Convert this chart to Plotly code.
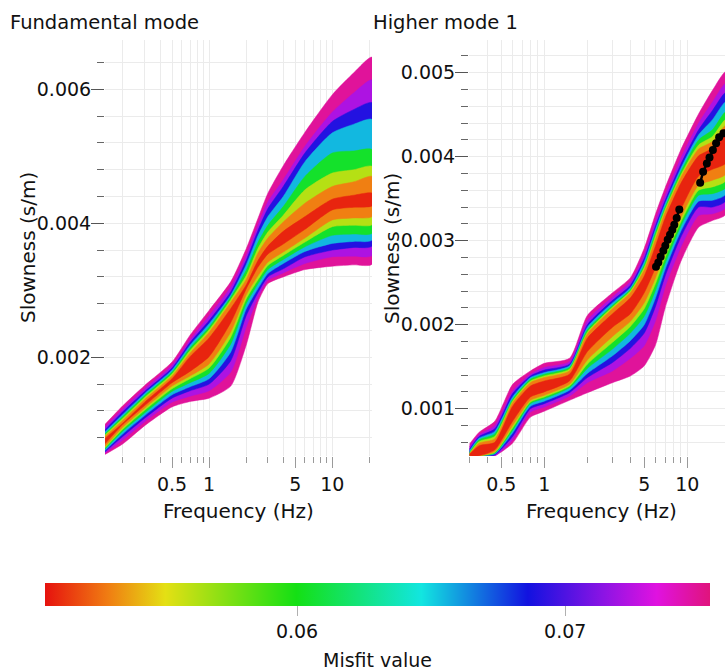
import math
import plotly.graph_objects as go
from plotly.colors import sample_colorscale

# ---------------- data (slowness in 1e-3 s/m) ----------------
SCALE = 1e-3

MISFIT_LEVELS = [0.0748, 0.0722, 0.0690, 0.0655, 0.0605, 0.0562, 0.0530, 0.0510]

FUND_FREQ = [0.143, 0.2, 0.3, 0.5, 0.7, 1.0, 1.5, 2.0, 2.5, 3.0, 4.0, 6.0, 10, 15, 21]
# rows = misfit level (worst -> best), columns = frequency
FUND_UPPER = [
    [1.00, 1.28, 1.58, 1.93, 2.33, 2.70, 3.13, 3.62, 4.08, 4.45, 4.86, 5.36, 5.92, 6.25, 6.48],
    [0.96, 1.23, 1.53, 1.88, 2.26, 2.62, 3.05, 3.52, 3.98, 4.32, 4.65, 5.15, 5.66, 5.95, 6.14],
    [0.92, 1.19, 1.49, 1.84, 2.22, 2.55, 2.98, 3.45, 3.90, 4.22, 4.55, 5.05, 5.52, 5.70, 5.80],
    [0.89, 1.15, 1.46, 1.81, 2.18, 2.50, 2.93, 3.38, 3.82, 4.10, 4.40, 4.92, 5.35, 5.48, 5.55],
    [0.86, 1.12, 1.43, 1.78, 2.14, 2.45, 2.90, 3.30, 3.72, 3.97, 4.25, 4.70, 5.05, 5.08, 5.10],
    [0.84, 1.09, 1.40, 1.75, 2.10, 2.41, 2.86, 3.22, 3.63, 3.87, 4.12, 4.50, 4.75, 4.80, 4.85],
    [0.82, 1.06, 1.37, 1.72, 2.06, 2.37, 2.82, 3.16, 3.56, 3.78, 4.02, 4.30, 4.55, 4.62, 4.70],
    [0.79, 1.02, 1.33, 1.68, 2.01, 2.29, 2.73, 3.08, 3.45, 3.66, 3.88, 4.10, 4.36, 4.42, 4.45],
]
FUND_LOWER = [
    [0.55, 0.71, 0.98, 1.26, 1.34, 1.39, 1.57, 2.18, 2.83, 3.10, 3.20, 3.31, 3.36, 3.38, 3.39],
    [0.57, 0.77, 1.04, 1.33, 1.42, 1.50, 1.78, 2.45, 2.90, 3.15, 3.26, 3.40, 3.50, 3.51, 3.52],
    [0.59, 0.82, 1.09, 1.39, 1.50, 1.60, 1.95, 2.62, 2.97, 3.20, 3.32, 3.50, 3.60, 3.64, 3.66],
    [0.61, 0.86, 1.13, 1.44, 1.56, 1.68, 2.08, 2.72, 3.03, 3.25, 3.40, 3.58, 3.70, 3.73, 3.75],
    [0.63, 0.90, 1.17, 1.49, 1.62, 1.76, 2.20, 2.80, 3.10, 3.31, 3.46, 3.65, 3.82, 3.84, 3.85],
    [0.65, 0.93, 1.21, 1.53, 1.68, 1.84, 2.30, 2.87, 3.16, 3.37, 3.52, 3.72, 3.95, 3.97, 3.98],
    [0.67, 0.96, 1.24, 1.57, 1.72, 1.90, 2.38, 2.93, 3.22, 3.42, 3.57, 3.78, 4.05, 4.08, 4.10],
    [0.71, 1.00, 1.28, 1.62, 1.79, 2.01, 2.52, 3.02, 3.35, 3.54, 3.69, 3.91, 4.20, 4.24, 4.26],
]

HIGH_FREQ = [0.3, 0.35, 0.45, 0.6, 0.8, 1.0, 1.5, 2.0, 3.0, 4.0, 5.0, 6.0, 7.0, 9.0, 12, 15, 18.5]
HIGH_UPPER = [
    [0.58, 0.72, 0.85, 1.29, 1.45, 1.54, 1.60, 2.11, 2.38, 2.56, 2.91, 3.32, 3.63, 4.08, 4.51, 4.79, 5.01],
    [0.55, 0.69, 0.80, 1.21, 1.41, 1.49, 1.56, 2.05, 2.33, 2.51, 2.84, 3.24, 3.54, 3.98, 4.40, 4.65, 4.87],
    [0.52, 0.67, 0.76, 1.18, 1.39, 1.46, 1.53, 2.00, 2.29, 2.47, 2.79, 3.18, 3.48, 3.91, 4.32, 4.55, 4.76],
    [0.50, 0.65, 0.73, 1.14, 1.37, 1.43, 1.51, 1.97, 2.26, 2.44, 2.75, 3.14, 3.44, 3.86, 4.26, 4.44, 4.65],
    [0.48, 0.63, 0.70, 1.11, 1.35, 1.41, 1.49, 1.94, 2.23, 2.42, 2.71, 3.10, 3.40, 3.82, 4.20, 4.32, 4.53],
    [0.47, 0.61, 0.67, 1.09, 1.33, 1.39, 1.47, 1.91, 2.21, 2.40, 2.68, 3.06, 3.37, 3.78, 4.14, 4.24, 4.44],
    [0.46, 0.59, 0.64, 1.07, 1.31, 1.37, 1.45, 1.89, 2.19, 2.38, 2.65, 3.02, 3.34, 3.75, 4.09, 4.18, 4.37],
    [0.46, 0.56, 0.60, 1.03, 1.27, 1.33, 1.41, 1.84, 2.13, 2.32, 2.58, 2.94, 3.27, 3.68, 4.01, 4.10, 4.28],
]
HIGH_LOWER = [
    [0.44, 0.44, 0.44, 0.59, 0.90, 0.97, 1.10, 1.19, 1.31, 1.39, 1.51, 1.76, 2.20, 2.75, 3.16, 3.24, 3.31],
    [0.44, 0.44, 0.44, 0.63, 0.96, 1.02, 1.15, 1.31, 1.45, 1.60, 1.75, 2.05, 2.45, 2.92, 3.30, 3.32, 3.39],
    [0.44, 0.44, 0.45, 0.67, 1.00, 1.06, 1.19, 1.37, 1.55, 1.72, 1.90, 2.22, 2.58, 3.04, 3.40, 3.40, 3.47],
    [0.44, 0.44, 0.46, 0.71, 1.03, 1.09, 1.22, 1.42, 1.63, 1.81, 2.00, 2.32, 2.66, 3.11, 3.47, 3.48, 3.55],
    [0.44, 0.44, 0.47, 0.74, 1.06, 1.12, 1.25, 1.48, 1.71, 1.90, 2.10, 2.41, 2.73, 3.17, 3.54, 3.56, 3.63],
    [0.44, 0.44, 0.48, 0.77, 1.08, 1.14, 1.27, 1.53, 1.79, 1.98, 2.19, 2.49, 2.80, 3.22, 3.60, 3.64, 3.71],
    [0.44, 0.44, 0.49, 0.80, 1.10, 1.16, 1.29, 1.58, 1.86, 2.04, 2.26, 2.56, 2.86, 3.27, 3.66, 3.72, 3.79],
    [0.44, 0.44, 0.51, 0.85, 1.14, 1.20, 1.33, 1.68, 1.97, 2.13, 2.38, 2.68, 2.96, 3.37, 3.77, 3.85, 3.92],
]

DOT_FREQ = [6.04, 6.27, 6.51, 6.80, 7.02, 7.29, 7.57, 7.86, 8.11, 8.43, 8.79, None,
            12.3, 12.9, 13.7, 14.3, 15.1, 15.9, 16.7, 17.9]
DOT_SLOW = [2.69, 2.74, 2.81, 2.88, 2.94, 3.01, 3.07, 3.13, 3.19, 3.27, 3.37, None,
            3.69, 3.82, 3.92, 3.99, 4.08, 4.16, 4.23, 4.28]

X_TICKS = [0.5, 1, 5, 10]
X_MINOR = [0.2, 0.3, 0.4, 0.6, 0.7, 0.8, 0.9, 2, 3, 4, 6, 7, 8, 9, 20]
CB_TICKS = [0.06, 0.07]
CMIN, CMAX = 0.0506, 0.0754

COLORSCALE = [
    [0.0, "#e6120e"], [0.094, "#f07c12"], [0.181, "#e4e014"], [0.378, "#14e014"],
    [0.566, "#12e6e0"], [0.726, "#1212e0"], [0.84, "#8c14e4"], [0.92, "#e012e0"],
    [1.0, "#e0147c"],
]

# ---------------- figure ----------------
W, H = 725, 671
FONT = "DejaVu Sans"
fig = go.Figure()


def level_color(m):
    return sample_colorscale(COLORSCALE, [(m - CMIN) / (CMAX - CMIN)])[0]


def add_bands(freq, upper, lower, xa, ya):
    for lvl, m in enumerate(MISFIT_LEVELS):
        col = level_color(m)
        xs = list(freq) + list(freq)[::-1]
        ys = [v * SCALE for v in upper[lvl]] + [v * SCALE for v in lower[lvl]][::-1]
        fig.add_trace(go.Scatter(
            x=xs, y=ys, xaxis=xa, yaxis=ya, mode="lines", fill="toself",
            fillcolor=col, line=dict(color=col, width=0.5, shape="spline", smoothing=0.6),
            hoverinfo="skip", showlegend=False))


add_bands(FUND_FREQ, FUND_UPPER, FUND_LOWER, "x", "y")
add_bands(HIGH_FREQ, HIGH_UPPER, HIGH_LOWER, "x2", "y2")

fig.add_trace(go.Scatter(
    x=DOT_FREQ, y=[v * SCALE if v is not None else None for v in DOT_SLOW],
    xaxis="x2", yaxis="y2", mode="lines+markers",
    line=dict(color="black", width=2.5), marker=dict(color="black", size=8),
    connectgaps=False, hoverinfo="skip", showlegend=False))

# colorbar carrier
fig.add_trace(go.Scatter(
    x=[None], y=[None], mode="markers", showlegend=False, hoverinfo="skip",
    marker=dict(color=[0.06], colorscale=COLORSCALE, cmin=CMIN, cmax=CMAX, showscale=True,
                colorbar=dict(orientation="h", x=(45 + 710) / 2 / W, xanchor="center",
                              y=1 - 583 / H, yanchor="top", len=665 / W, lenmode="fraction",
                              thickness=23, thicknessmode="pixels", xpad=0, ypad=0,
                              outlinewidth=0, tickvals=CB_TICKS, ticktext=["0.06", "0.07"],
                              ticks="outside", ticklen=10, tickcolor="#b0b0b0",
                              tickfont=dict(family=FONT, size=19, color="#111"),
                              title=dict(text="")))))

GRID = "#ebebeb"
YDOM = [1 - 456 / H, 1 - 40 / H]


def xaxis_cfg(dom, rng, anchor):
    return dict(type="log", domain=dom, range=rng, anchor=anchor, showline=False, zeroline=False,
                showgrid=True, gridcolor=GRID, gridwidth=1,
                tickmode="array", tickvals=X_TICKS, ticktext=[str(v) for v in X_TICKS],
                ticks="outside", ticklen=11, tickcolor="#9a9a9a", tickwidth=1,
                tickfont=dict(family=FONT, size=19, color="#111"),
                minor=dict(tickmode="array", tickvals=X_MINOR, ticks="outside", ticklen=6,
                           tickcolor="#9a9a9a", showgrid=True, gridcolor=GRID))


def yaxis_cfg(anchor, rng, dtick, mdtick):
    return dict(anchor=anchor, domain=YDOM, range=rng, showline=False, zeroline=False,
                showgrid=True, gridcolor=GRID, tick0=0, dtick=dtick, tickformat=".3f",
                ticks="outside", ticklen=13, tickcolor="#555", tickwidth=1,
                ticklabelstandoff=-4,
                tickfont=dict(family=FONT, size=19, color="#111"),
                minor=dict(dtick=mdtick, tick0=0, ticks="outside", ticklen=7,
                           tickcolor="#666", showgrid=True, gridcolor=GRID))


fig.update_layout(
    width=W, height=H, margin=dict(l=0, r=0, t=0, b=0),
    paper_bgcolor="white", plot_bgcolor="white", showlegend=False,
    font=dict(family=FONT, color="#111"),
    xaxis=xaxis_cfg([105 / W, 372 / W], [math.log10(0.1429), math.log10(21.0)], "y"),
    xaxis2=xaxis_cfg([469 / W, 1.0], [math.log10(0.2973), math.log10(18.35)], "y2"),
    yaxis=yaxis_cfg("x", [0.000527, 0.006736], 0.002, 0.0004),
    yaxis2=yaxis_cfg("x2", [0.000437, 0.005389], 0.001, 0.0002),
)

ann = [
    dict(text="Fundamental mode", x=8 / W, y=1 - 22 / H, xanchor="left", size=19.5),
    dict(text="Higher mode 1", x=371 / W, y=1 - 22 / H, xanchor="left", size=19.5),
    dict(text="Frequency (Hz)", x=238.5 / W, y=1 - 511 / H, xanchor="center", size=20),
    dict(text="Frequency (Hz)", x=601 / W, y=1 - 511 / H, xanchor="center", size=20),
    dict(text="Misfit value", x=(45 + 710) / 2 / W, y=1 - 660 / H, xanchor="center", size=19),
]
for a in ann:
    fig.add_annotation(text=a["text"], x=a["x"], y=a["y"], xref="paper", yref="paper",
                       xanchor=a["xanchor"], yanchor="middle", showarrow=False,
                       font=dict(family=FONT, size=a["size"], color="#111"))
for xc in (28, 392):
    fig.add_annotation(text="Slowness (s/m)", x=xc / W, y=1 - 248 / H, xref="paper", yref="paper",
                       xanchor="center", yanchor="middle", textangle=-90, showarrow=False,
                       font=dict(family=FONT, size=20, color="#111"))

fig.write_html("out.html")
